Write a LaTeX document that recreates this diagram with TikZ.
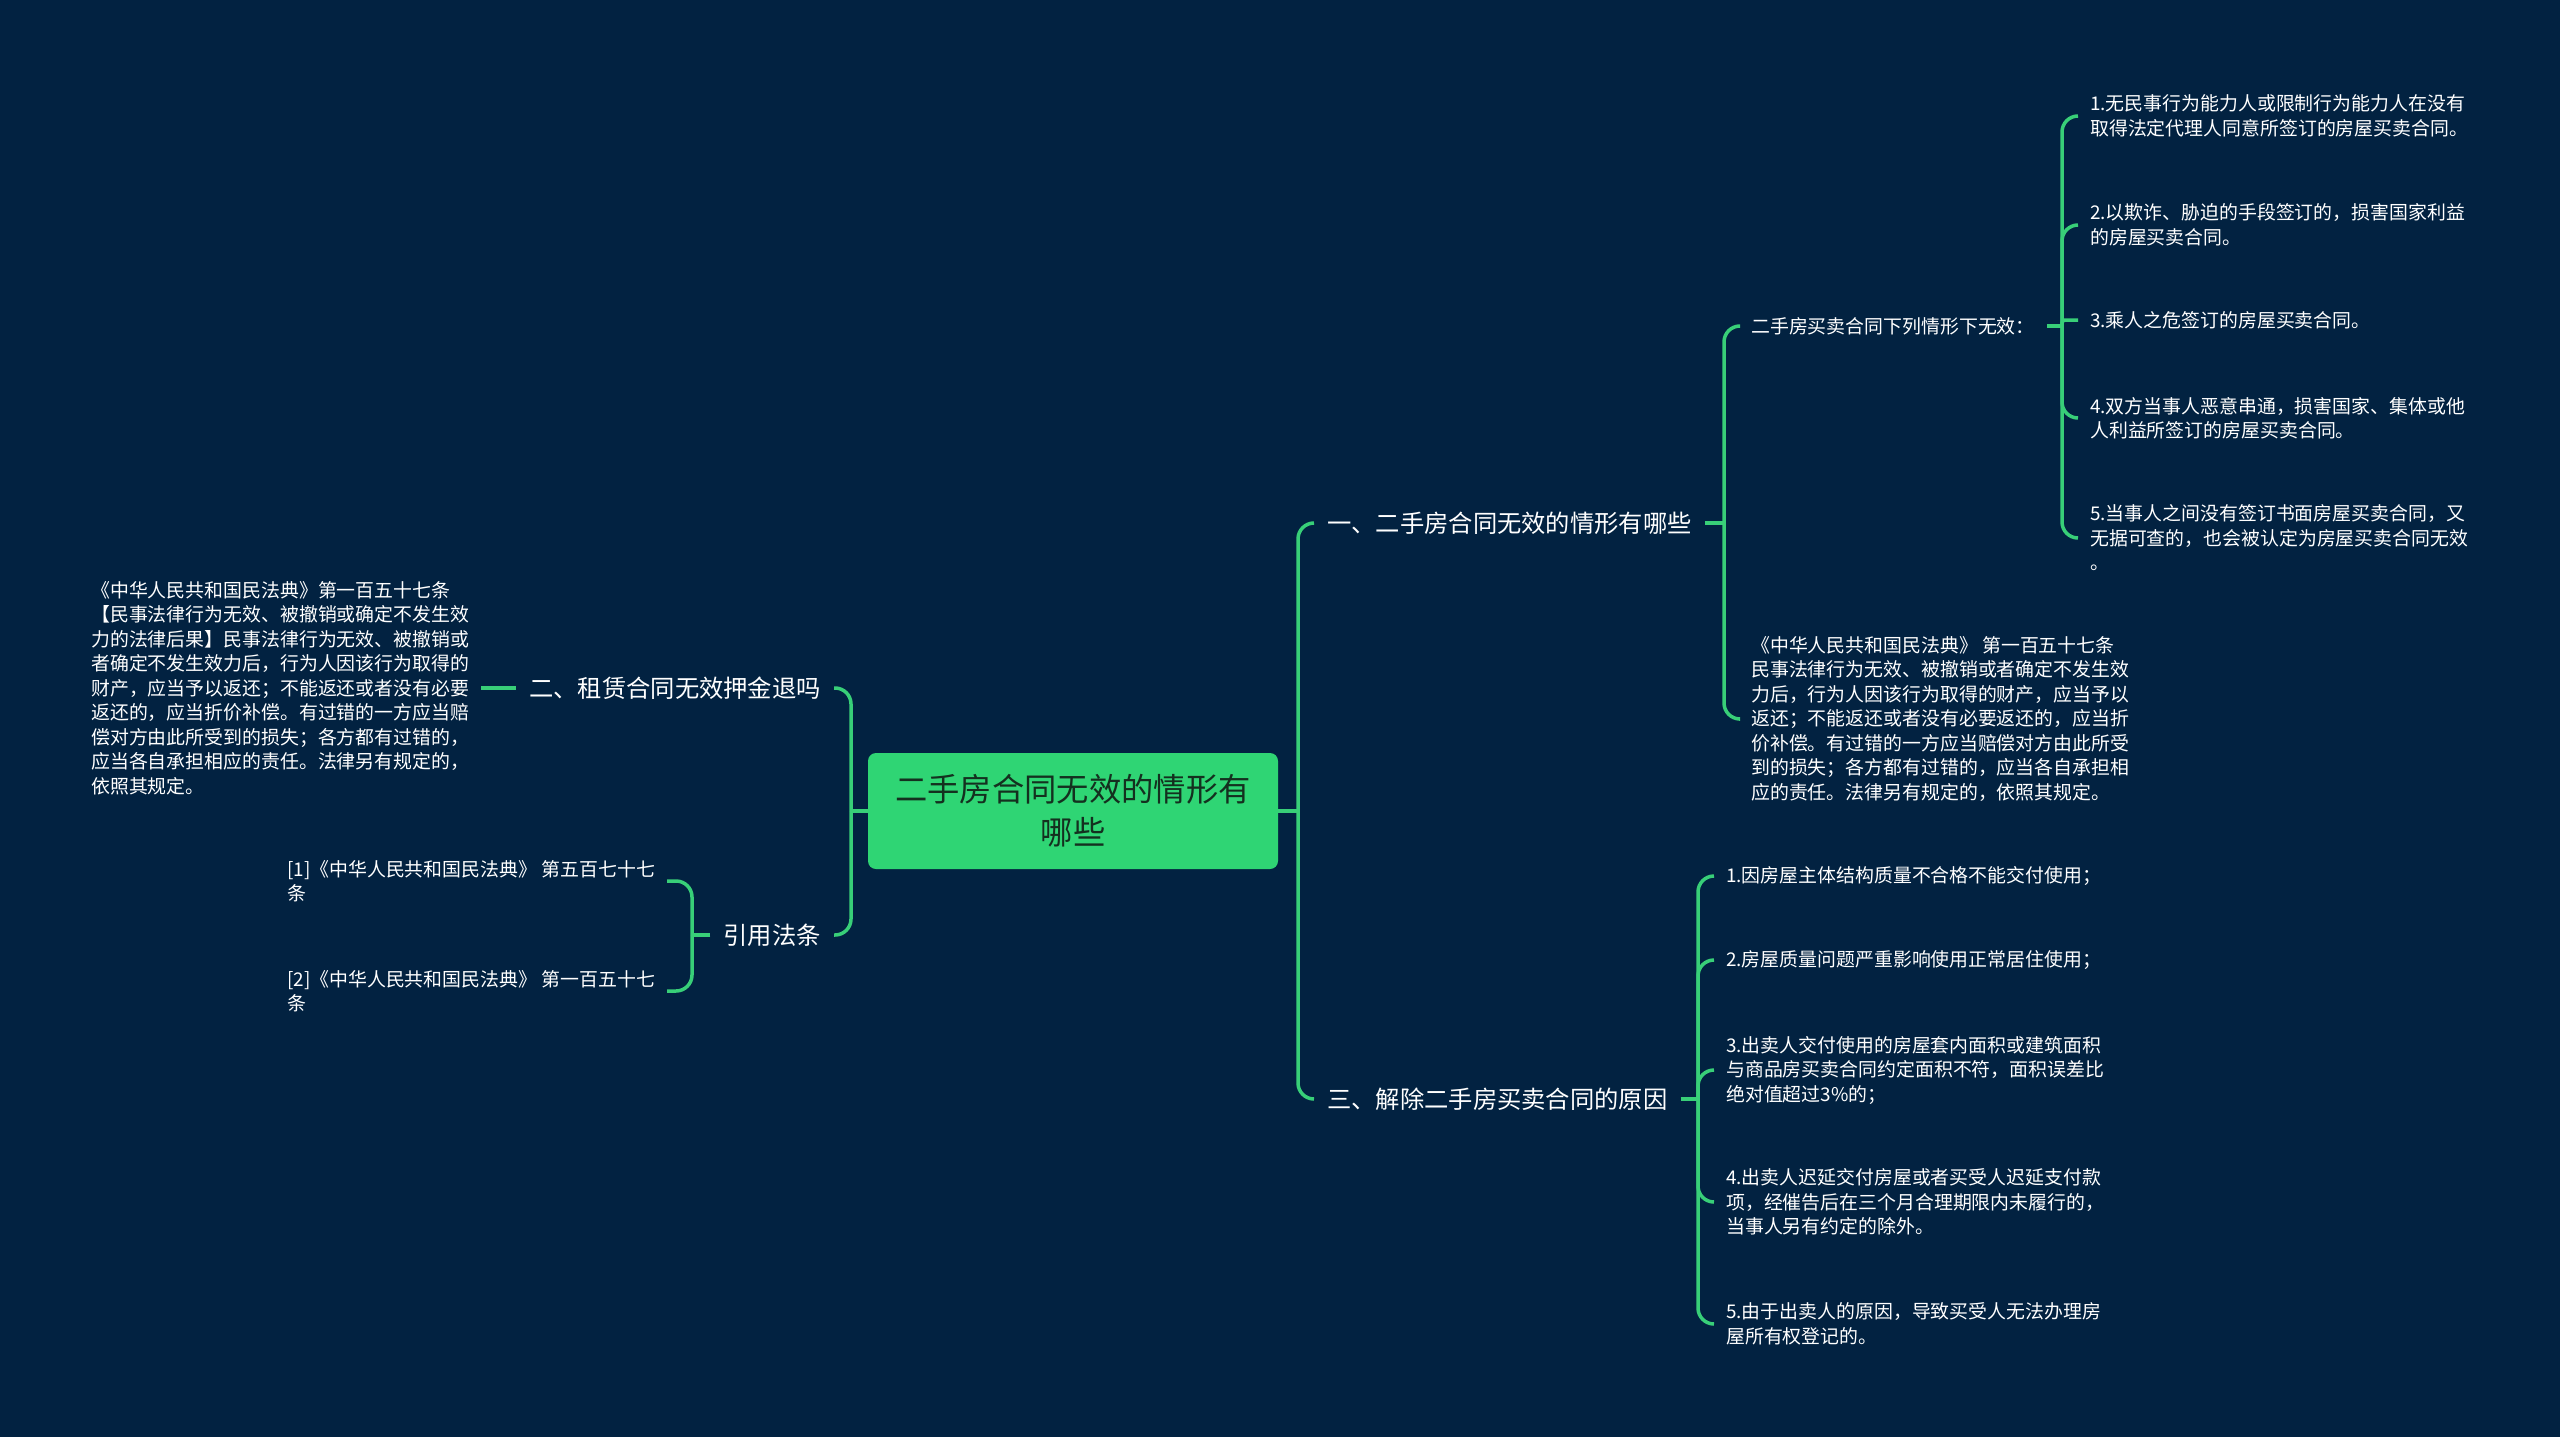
\documentclass[tikz,border=0pt]{standalone}
\usepackage{fontspec}
\setmainfont{Noto Sans CJK SC}
\definecolor{bg}{HTML}{022241}
\definecolor{lk}{HTML}{38CF78}
\definecolor{rootfill}{HTML}{2FD574}
\definecolor{roottext}{HTML}{14301F}
\begin{document}
\begin{tikzpicture}[x=1pt,y=-1pt,
  link/.style={draw=lk,line width=3.5pt,rounded corners=16pt},
  stub/.style={draw=lk,line width=3.5pt},
  rootbox/.style={fill=rootfill,rounded corners=8pt,minimum width=410pt,minimum height=116pt,
    align=center,text=roottext,font=\fontsize{32.3}{43}\selectfont,inner sep=0pt},
  branch/.style={text=white,font=\fontsize{24.3}{30}\selectfont,inner xsep=13pt,inner ysep=4pt},
  leaf/.style={text=white,font=\fontsize{18.9}{24.5}\selectfont,align=left,inner xsep=12pt,inner ysep=3pt}]
\fill[bg] (0,0) rectangle (2560,1437);
\useasboundingbox (0,0) rectangle (2560,1437);

% root
\node[rootbox] (root) at (1073,811) {二手房合同无效的情形有\\哪些};

% right side
\coordinate (jR) at (1298,811);
\node[branch,anchor=west] (b1) at (1314,523) {一、二手房合同无效的情形有哪些};
\node[branch,anchor=west] (b3) at (1314,1099) {三、解除二手房买卖合同的原因};

\coordinate (j1) at (1724,523);
\node[leaf,anchor=west] (c1) at (1739,326) {二手房买卖合同下列情形下无效：};
\node[leaf,anchor=west] (c2) at (1739,719) {《中华人民共和国民法典》 第一百五十七条\\民事法律行为无效、被撤销或者确定不发生效\\力后，行为人因该行为取得的财产，应当予以\\返还；不能返还或者没有必要返还的，应当折\\价补偿。有过错的一方应当赔偿对方由此所受\\到的损失；各方都有过错的，应当各自承担相\\应的责任。法律另有规定的，依照其规定。};

\coordinate (j2) at (2062,326);
\node[leaf,anchor=west] (d1) at (2078,116) {1.无民事行为能力人或限制行为能力人在没有\\取得法定代理人同意所签订的房屋买卖合同。};
\node[leaf,anchor=west] (d2) at (2078,225) {2.以欺诈、胁迫的手段签订的，损害国家利益\\的房屋买卖合同。};
\node[leaf,anchor=west] (d3) at (2078,320) {3.乘人之危签订的房屋买卖合同。};
\node[leaf,anchor=west] (d4) at (2078,418) {4.双方当事人恶意串通，损害国家、集体或他\\人利益所签订的房屋买卖合同。};
\node[leaf,anchor=west] (d5) at (2078,538) {5.当事人之间没有签订书面房屋买卖合同，又\\无据可查的，也会被认定为房屋买卖合同无效\\。};

\coordinate (j3) at (1698,1099);
\node[leaf,anchor=west] (e1) at (1714,876) {1.因房屋主体结构质量不合格不能交付使用；};
\node[leaf,anchor=west] (e2) at (1714,960) {2.房屋质量问题严重影响使用正常居住使用；};
\node[leaf,anchor=west] (e3) at (1714,1070) {3.出卖人交付使用的房屋套内面积或建筑面积\\与商品房买卖合同约定面积不符，面积误差比\\绝对值超过3\%的；};
\node[leaf,anchor=west] (e4) at (1714,1202) {4.出卖人迟延交付房屋或者买受人迟延支付款\\项，经催告后在三个月合理期限内未履行的，\\当事人另有约定的除外。};
\node[leaf,anchor=west] (e5) at (1714,1324) {5.由于出卖人的原因，导致买受人无法办理房\\屋所有权登记的。};

% left side
\coordinate (jL) at (851,811);
\node[branch,anchor=east] (a1) at (834,688) {二、租赁合同无效押金退吗};
\node[branch,anchor=east] (a2) at (834,935) {引用法条};

\node[leaf,anchor=west] (a1l) at (79,688) {《中华人民共和国民法典》第一百五十七条\\【民事法律行为无效、被撤销或确定不发生效\\力的法律后果】民事法律行为无效、被撤销或\\者确定不发生效力后，行为人因该行为取得的\\财产，应当予以返还；不能返还或者没有必要\\返还的，应当折价补偿。有过错的一方应当赔\\偿对方由此所受到的损失；各方都有过错的，\\应当各自承担相应的责任。法律另有规定的，\\依照其规定。};

\coordinate (j4) at (692,935);
\node[leaf,anchor=west] (f1) at (275,881) {[1]《中华人民共和国民法典》 第五百七十七\\条};
\node[leaf,anchor=west] (f2) at (275,991) {[2]《中华人民共和国民法典》 第一百五十七\\条};

% connectors right
\draw[stub] (root.east) -- (jR);
\draw[link] (jR) |- (b1.west);
\draw[link] (jR) |- (b3.west);
\draw[stub] (b1.east) -- (j1);
\draw[link] (j1) |- (c1.west);
\draw[link] (j1) |- (c2.west);
\draw[stub] (c1.east) -- (j2);
\draw[link] (j2) |- (d1.west);
\draw[link] (j2) |- (d2.west);
\draw[stub,rounded corners=3pt] (j2) |- (d3.west);
\draw[link] (j2) |- (d4.west);
\draw[link] (j2) |- (d5.west);
\draw[stub] (b3.east) -- (j3);
\draw[link] (j3) |- (e1.west);
\draw[link] (j3) |- (e2.west);
\draw[link] (j3) |- (e3.west);
\draw[link] (j3) |- (e4.west);
\draw[link] (j3) |- (e5.west);

% connectors left
\draw[stub] (root.west) -- (jL);
\draw[link] (jL) |- (a1.east);
\draw[link] (jL) |- (a2.east);
\draw[stub] (a1.west) -- (a1l.east);
\draw[stub] (a2.west) -- (j4);
\draw[link] (j4) |- (f1.east);
\draw[link] (j4) |- (f2.east);
\end{tikzpicture}
\end{document}
